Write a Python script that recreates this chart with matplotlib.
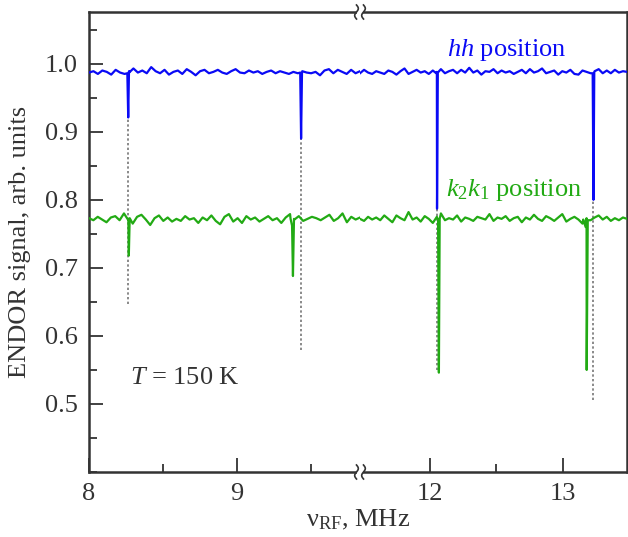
import numpy as np
import matplotlib
matplotlib.use("Agg")
import matplotlib.pyplot as plt
from matplotlib.patches import Rectangle
from matplotlib.ticker import MultipleLocator, FixedLocator

# Frequency windows of the broken axis (MHz)
left_range = (8.0, 9.831)
right_range = (11.474, 13.481)

# Baseline readings of the hh trace (evenly spaced over each window)
blue_left = [0.987, 0.989, 0.985, 0.990, 0.988, 0.984, 0.991, 0.987, 0.985, 0.989,
             0.993, 0.987, 0.990, 0.986, 0.995, 0.989, 0.986, 0.991, 0.984, 0.988,
             0.990, 0.985, 0.992, 0.988, 0.983, 0.989, 0.991, 0.986, 0.988, 0.991,
             0.987, 0.985, 0.989, 0.992, 0.987, 0.986, 0.990, 0.987, 0.989, 0.985,
             0.988, 0.990, 0.986, 0.989, 0.987, 0.985, 0.988, 0.986, 0.989, 0.987,
             0.986, 0.988, 0.983, 0.990, 0.992, 0.986, 0.991, 0.988, 0.985, 0.991,
             0.986, 0.989]
blue_right = [0.986, 0.991, 0.987, 0.985, 0.989, 0.987, 0.985, 0.990, 0.988, 0.984,
              0.989, 0.993, 0.985, 0.988, 0.991, 0.987, 0.989, 0.985, 0.990, 0.988,
              0.992, 0.986, 0.989, 0.991, 0.986, 0.991, 0.987, 0.994, 0.987, 0.990,
              0.984, 0.989, 0.988, 0.992, 0.986, 0.990, 0.987, 0.989, 0.985, 0.988,
              0.991, 0.986, 0.992, 0.987, 0.989, 0.993, 0.986, 0.988, 0.990, 0.984,
              0.989, 0.987, 0.991, 0.985, 0.984, 0.990, 0.988, 0.986, 0.989, 0.992,
              0.986, 0.990, 0.986, 0.991, 0.987, 0.989, 0.988]

# Baseline readings of the k2k1 trace
green_left = [0.773, 0.770, 0.775, 0.771, 0.767, 0.774, 0.776, 0.770, 0.780, 0.772,
              0.765, 0.775, 0.778, 0.771, 0.763, 0.773, 0.777, 0.769, 0.774, 0.768,
              0.772, 0.769, 0.776, 0.771, 0.773, 0.766, 0.774, 0.770, 0.777, 0.769,
              0.764, 0.775, 0.779, 0.768, 0.773, 0.766, 0.776, 0.771, 0.774, 0.768,
              0.772, 0.776, 0.770, 0.773, 0.766, 0.774, 0.779, 0.771, 0.776, 0.769,
              0.772, 0.775, 0.773, 0.770, 0.774, 0.778, 0.769, 0.773, 0.780, 0.767,
              0.775, 0.771, 0.774]
green_right = [0.772, 0.769, 0.775, 0.771, 0.774, 0.770, 0.777, 0.772, 0.767, 0.777,
               0.773, 0.770, 0.782, 0.771, 0.774, 0.768, 0.776, 0.772, 0.766, 0.775,
               0.780, 0.770, 0.773, 0.771, 0.777, 0.768, 0.774, 0.772, 0.769, 0.775,
               0.773, 0.771, 0.779, 0.769, 0.774, 0.772, 0.776, 0.769, 0.773, 0.775,
               0.767, 0.774, 0.771, 0.778, 0.772, 0.769, 0.776, 0.773, 0.769, 0.774,
               0.779, 0.768, 0.772, 0.775, 0.771, 0.765, 0.773, 0.770, 0.774, 0.777,
               0.771, 0.775, 0.769, 0.773, 0.770, 0.774, 0.772]

# Resonance dips (frequency, signal)
blue_dip_f = [8.259, 8.265, 8.271,
              9.427, 9.433, 9.439,
              12.047, 12.053, 12.059,
              13.223, 13.229, 13.235]
blue_dip_v = [0.986, 0.921, 0.987,
              0.987, 0.890, 0.986,
              0.986, 0.787, 0.987,
              0.986, 0.800, 0.988]
green_dip_f = [8.263, 8.269, 8.275,
               9.362, 9.372, 9.378, 9.385,
               12.061, 12.067, 12.073,
               13.152, 13.170, 13.178, 13.186]
green_dip_v = [0.771, 0.718, 0.773,
               0.772, 0.762, 0.688, 0.772,
               0.770, 0.546, 0.772,
               0.771, 0.760, 0.550, 0.770]

# Dotted guide lines (frequency, top, bottom)
guide_f = [8.265, 9.433, 12.055, 13.229]
guide_top = [0.921, 0.890, 0.787, 0.800]
guide_bottom = [0.647, 0.579, 0.550, 0.506]

BLUE = "#0a0af5"
GREEN = "#22aa14"
DARK = "#333333"


def build_trace(frange, noise, dip_f, dip_v):
    """Merge evenly spaced baseline readings with the dip points of one window."""
    f = np.linspace(frange[0], frange[1], len(noise))
    df = np.array(dip_f)
    dv = np.array(dip_v)
    keep = (df >= frange[0]) & (df <= frange[1])
    f_all = np.concatenate([f, df[keep]])
    v_all = np.concatenate([np.array(noise), dv[keep]])
    order = np.argsort(f_all)
    return f_all[order], v_all[order]


def style_axis(ax, side):
    ax.set_ylim(0.4, 1.076)
    for sp in ax.spines.values():
        sp.set_linewidth(1.8)
        sp.set_color(DARK)
    ax.tick_params(which="both", direction="in", colors=DARK, labelsize=19,
                   top=False, right=False, pad=8)
    ax.tick_params(which="major", length=10, width=1.3)
    ax.tick_params(which="minor", length=6, width=1.3)
    if side == "left":
        ax.spines["right"].set_visible(False)
        ax.yaxis.set_major_locator(MultipleLocator(0.1))
        ax.yaxis.set_minor_locator(MultipleLocator(0.05))
        ax.set_yticks([0.5, 0.6, 0.7, 0.8, 0.9, 1.0])
        ax.set_yticklabels(["0.5", "0.6", "0.7", "0.8", "0.9", "1.0"])
        ax.xaxis.set_major_locator(FixedLocator([8, 9]))
        ax.xaxis.set_minor_locator(FixedLocator([8.5, 9.5]))
    else:
        ax.spines["left"].set_visible(False)
        ax.tick_params(which="both", left=False, labelleft=False)
        ax.xaxis.set_major_locator(FixedLocator([12, 13]))
        ax.xaxis.set_minor_locator(FixedLocator([12.5]))


def draw_break(fig, x_px, y_px, W, H):
    """Draw the two small squiggles of the axis break."""
    fig.patches.append(Rectangle(((x_px - 3) / W, (y_px - 3) / H), 6 / W, 6 / H,
                                 transform=fig.transFigure, facecolor="white",
                                 edgecolor="none", zorder=5))
    t = np.linspace(-1, 1, 40)
    for dx in (-3.5, 3.5):
        xs = x_px + dx + 1.8 * np.sin(np.pi * t)
        ys = y_px + 7 * t
        fig.lines.append(plt.Line2D(xs / W, ys / H, transform=fig.transFigure,
                                    color=DARK, lw=1.2, zorder=6))


def main():
    plt.rcParams["font.family"] = ["Liberation Serif", "DejaVu Serif"]
    plt.rcParams["mathtext.fontset"] = "custom"
    plt.rcParams["mathtext.rm"] = "Liberation Serif"
    plt.rcParams["mathtext.it"] = "Liberation Serif:italic"

    W, H = 628, 537
    fig = plt.figure(figsize=(W / 100, H / 100), dpi=100)
    x0, xb, x1 = 89, 360, 627
    ytop, ybot = 12, 472
    ax_l = fig.add_axes([x0 / W, 1 - ybot / H, (xb - x0) / W, (ybot - ytop) / H])
    ax_r = fig.add_axes([xb / W, 1 - ybot / H, (x1 - xb) / W, (ybot - ytop) / H])

    for ax, frange, bn, gn, side in [(ax_l, left_range, blue_left, green_left, "left"),
                                     (ax_r, right_range, blue_right, green_right, "right")]:
        ax.set_xlim(*frange)
        f, v = build_trace(frange, bn, blue_dip_f, blue_dip_v)
        ax.plot(f, v, color=BLUE, lw=1.6, zorder=3)
        f, v = build_trace(frange, gn, green_dip_f, green_dip_v)
        ax.plot(f, v, color=GREEN, lw=1.6, zorder=3)
        for gf, gt, gb in zip(guide_f, guide_top, guide_bottom):
            if frange[0] < gf < frange[1]:
                ax.plot([gf, gf], [gb, gt], color="#8a8a8a", lw=1.4,
                        ls=(0, (1.2, 1.2)), zorder=2)
        style_axis(ax, side)

    ax_l.set_ylabel("ENDOR signal, arb. units", fontsize=19, color=DARK, labelpad=10)
    fig.text((x0 + x1) / 2 / W, 1 - 520 / H, "ν$_{\\rm RF}$, MHz", fontsize=19,
             color=DARK, ha="center", va="center")

    ax_r.text(12.58, 1.012, "$hh$ position", color=BLUE, fontsize=19, ha="center",
              va="baseline")
    ax_r.text(12.63, 0.806, "$k_2k_1$ position", color=GREEN, fontsize=19, ha="center",
              va="baseline")
    ax_l.text(8.277, 0.529, "$T$ = 150 K", color=DARK, fontsize=19, ha="left",
              va="baseline")

    draw_break(fig, xb, H - ytop, W, H)
    draw_break(fig, xb, H - ybot, W, H)

    fig.savefig("out.png", dpi=100)


if __name__ == "__main__":
    main()
